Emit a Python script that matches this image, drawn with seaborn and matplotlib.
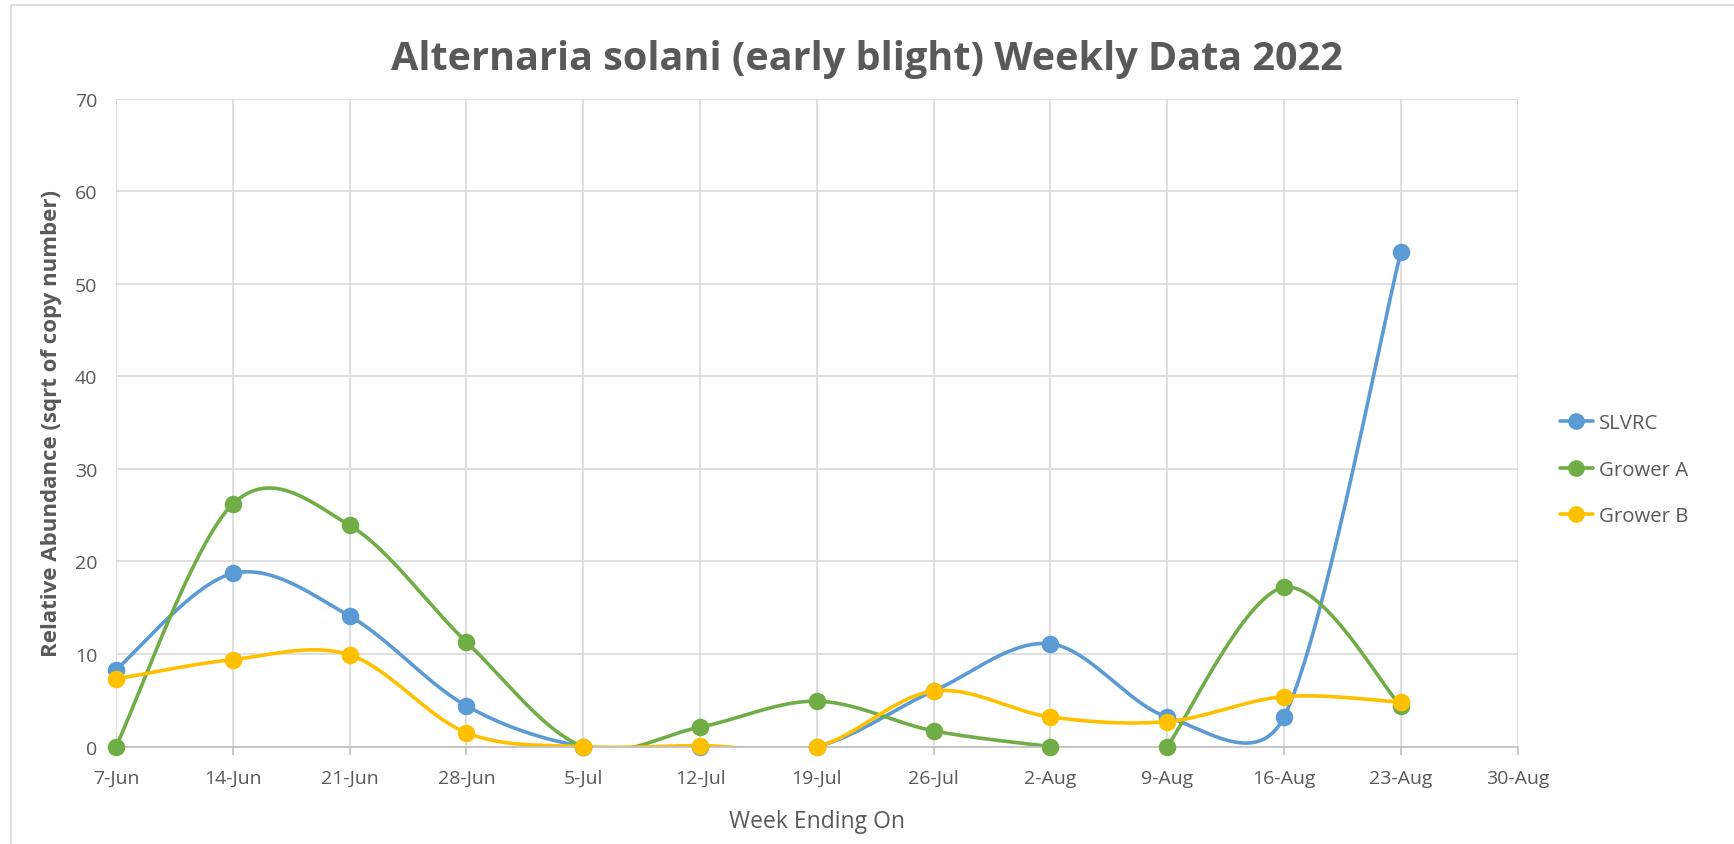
import numpy as np
import pandas as pd
import seaborn as sns
import matplotlib.pyplot as plt
import matplotlib.dates as mdates
from matplotlib.lines import Line2D
from matplotlib.patches import Rectangle

# week ending dates
weeks = ["2022-06-07", "2022-06-14", "2022-06-21", "2022-06-28", "2022-07-05", "2022-07-12",
         "2022-07-19", "2022-07-26", "2022-08-02", "2022-08-09", "2022-08-16", "2022-08-23"]
slvrc = [8.3, 18.7, 14.1, 4.4, 0.0, 0.0, 0.0, 6.0, 11.1, 3.2, 3.2, 53.4]
grower_a = [0.0, 26.2, 23.9, 11.3, 0.0, 2.1, 4.9, 1.7, 0.0, 0.0, 17.2, 4.4]
grower_b = [7.3, 9.4, 9.9, 1.5, 0.0, 0.1, 0.0, 6.0, 3.2, 2.7, 5.4, 4.8]
# grower A line is broken between these two weeks
grower_a_gap = ("2022-08-02", "2022-08-09")

series = ["SLVRC", "Grower A", "Grower B"]
colors = ["#5B9BD5", "#70AD47", "#FFC000"]
tick_weeks = pd.date_range("2022-06-07", "2022-08-30", freq="7D")

grey = "#595959"

# approx pixels per day / per unit, so smoothing works like excel's (screen space)
PX_DAY = 16.68
PX_UNIT = 9.26


def smooth(x, y, n=50):
    # excel-like smoothed line: bezier segments, tangents capped at half a segment
    x = np.asarray(x, float) * PX_DAY
    y = np.asarray(y, float) * PX_UNIT
    p = np.column_stack([x, y])
    out = []
    for i in range(len(p) - 1):
        p0 = p[max(i - 1, 0)]
        p1, p2 = p[i], p[i + 1]
        p3 = p[min(i + 2, len(p) - 1)]
        d12 = np.linalg.norm(p2 - p1)
        d02 = np.linalg.norm(p2 - p0)
        d13 = np.linalg.norm(p3 - p1)
        f0 = 1 / 6 if d02 / 6 < d12 / 2 else d12 / (2 * d02)
        f1 = 1 / 6 if d13 / 6 < d12 / 2 else d12 / (2 * d13)
        c1 = p1 + (p2 - p0) * f0
        c2 = p2 - (p3 - p1) * f1
        t = np.linspace(0, 1, n)[:, None]
        seg = (1 - t) ** 3 * p1 + 3 * (1 - t) ** 2 * t * c1 + 3 * (1 - t) * t ** 2 * c2 + t ** 3 * p2
        out.append(seg)
    out = np.vstack(out)
    return out[:, 0] / PX_DAY, out[:, 1] / PX_UNIT


df = pd.DataFrame({"week": pd.to_datetime(weeks), "SLVRC": slvrc,
                   "Grower A": grower_a, "Grower B": grower_b})
df["x"] = mdates.date2num(df["week"])

sns.set_style("whitegrid")
plt.rcParams["font.family"] = ["Open Sans", "DejaVu Sans"]

fig = plt.figure(figsize=(17.34, 8.45), dpi=100)
ax = fig.add_axes([0.0669, 0.1153, 0.8083, 0.7669])

fig.patches.append(Rectangle((0.0065, -0.05), 1.2, 1.043, transform=fig.transFigure,
                             fill=False, edgecolor="#d9d9d9", lw=1.2))

for name, col in zip(series, colors):
    if name == "Grower A":
        cut = df["week"] <= pd.Timestamp(grower_a_gap[0])
        parts = [df[cut], df[~cut]]
    else:
        parts = [df]
    for part in parts:
        sx, sy = smooth(part["x"], part[name])
        sns.lineplot(x=sx, y=sy, sort=False, color=col, lw=2.6, ax=ax,
                     estimator=None, solid_capstyle="round")
    sns.scatterplot(x=df["x"], y=df[name], color=col, s=160, linewidth=0,
                    ax=ax, clip_on=False, zorder=5)

ax.set_xlim(mdates.date2num(tick_weeks[0]), mdates.date2num(tick_weeks[-1]))
ax.set_ylim(0, 70)
ax.set_yticks(range(0, 71, 10))
ax.set_xticks(mdates.date2num(tick_weeks))
ax.set_xticklabels([f"{d.day}-{d.strftime('%b')}" for d in tick_weeks])

ax.grid(True, color="#d9d9d9", lw=1.2)
for s in ["left", "right", "top"]:
    ax.spines[s].set_visible(False)
ax.spines["bottom"].set_color("#bfbfbf")
ax.spines["bottom"].set_linewidth(1.2)
ax.tick_params(axis="x", bottom=True, length=6, color="#bfbfbf", width=1.2,
               labelsize=14, labelcolor=grey, pad=10)
ax.tick_params(axis="y", left=False, labelsize=14, labelcolor=grey, pad=10)

ax.set_xlabel("Week Ending On", fontsize=16.5, color=grey, labelpad=16)
ax.set_ylabel("Relative Abundance (sqrt of copy number)", fontsize=16, color=grey,
              fontweight="bold", labelpad=9)
fig.suptitle("Alternaria solani (early blight) Weekly Data 2022", x=0.5, y=0.953,
             fontsize=28.5, fontweight="bold", color=grey)

handles = [Line2D([0], [0], color=c, lw=2.6, marker="o", markersize=11) for c in colors]
fig.legend(handles, series, loc="center left", bbox_to_anchor=(0.889, 0.443),
           frameon=False, fontsize=14.7, labelcolor=grey, handlelength=1.6,
           labelspacing=1.3, handletextpad=0.3)

fig.savefig("out.png", dpi=100)
